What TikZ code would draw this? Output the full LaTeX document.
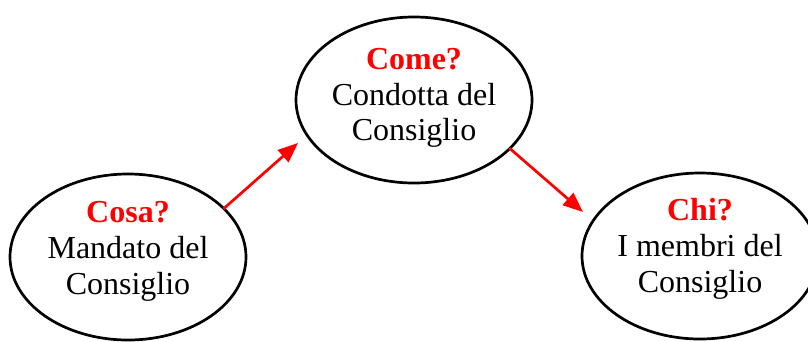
\documentclass[tikz,border=0pt]{standalone}
\usepackage{fontspec}
\setmainfont{Liberation Serif}
\usetikzlibrary{shapes.geometric,arrows.meta}
\begin{document}
\begin{tikzpicture}[x=1pt,y=-1pt,
  ell/.style={draw=black,line width=2.7pt,ellipse,inner sep=0pt,minimum width=236pt,minimum height=166pt},
  txt/.style={anchor=base,inner sep=0pt,font=\fontsize{32}{36}\selectfont},
  qtxt/.style={txt,text=red,font=\fontsize{32}{36}\selectfont\bfseries},
  arr/.style={draw=red,line width=2.7pt,-{Triangle[length=20pt,width=16pt]}}]
\useasboundingbox (0,0) rectangle (808,341);
\node[ell] (cosa) at (128,257) {};
\node[ell] (come) at (414,100) {};
\node[ell] (chi) at (700,256) {};
\node[qtxt] (cosaq) at (128,222) {Cosa?};
\node[txt] (cosa1) at (128,258) {Mandato del};
\node[txt] (cosa2) at (128,294) {Consiglio};
\node[qtxt] (comeq) at (414,69) {Come?};
\node[txt] (come1) at (414,105) {Condotta del};
\node[txt] (come2) at (414,140) {Consiglio};
\node[qtxt] (chiq) at (700,220) {Chi?};
\node[txt] (chi1) at (700,256) {I membri del};
\node[txt] (chi2) at (700,292) {Consiglio};
\coordinate (t1) at (298,143);
\coordinate (t2) at (583,212);
\draw[arr,shorten <=-2pt] (cosa.27) -- (t1);
\draw[arr,shorten <=-2pt] (come.-27) -- (t2);
\end{tikzpicture}
\end{document}
